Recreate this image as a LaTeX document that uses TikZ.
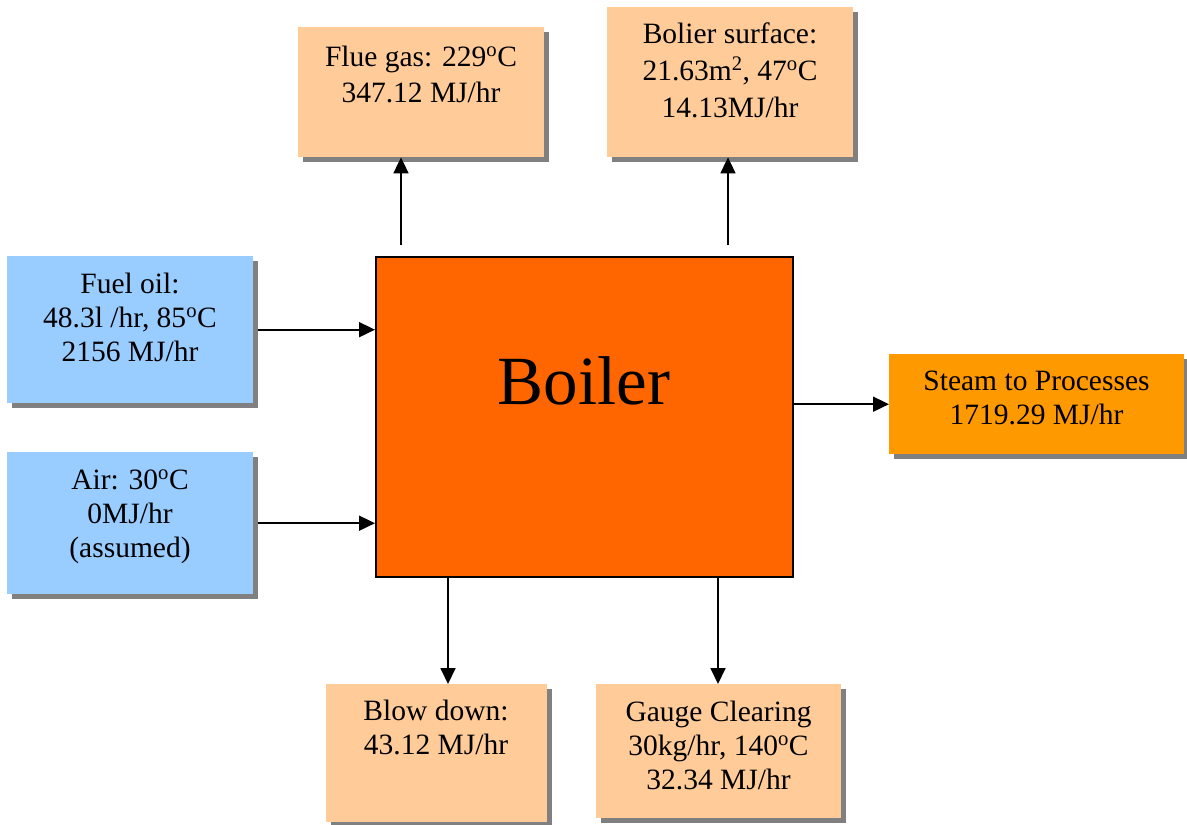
\documentclass[tikz,border=0pt]{standalone}
\usepackage{fontspec}
\setmainfont{Liberation Serif}
\usetikzlibrary{shadows,arrows.meta}
\definecolor{peach}{HTML}{FFCC99}
\definecolor{skyb}{HTML}{99CCFF}
\definecolor{steamc}{HTML}{FF9900}
\definecolor{boilc}{HTML}{FF6600}
\begin{document}
\begin{tikzpicture}[x=1pt,y=-1pt,
  box/.style={rectangle, inner sep=0, anchor=north west,
    drop shadow={shadow xshift=5pt, shadow yshift=-5pt, fill=black!50, opacity=1}},
  txt/.style={inner sep=0, anchor=base, font=\fontsize{29.5}{34}\selectfont},
  arr/.style={line width=1.8pt, -{Triangle[length=16pt,width=15pt]}}]
\useasboundingbox (0,0) rectangle (1187,825);

% boxes
\node[box, fill=peach, minimum width=246, minimum height=130] (flue) at (298,27) {};
\node[box, fill=peach, minimum width=246, minimum height=150] (bsurf) at (607,7) {};
\node[box, fill=skyb, minimum width=246, minimum height=147] (fuel) at (7,256) {};
\node[box, fill=skyb, minimum width=246, minimum height=142] (air) at (7,452) {};
\node[box, fill=steamc, minimum width=295, minimum height=100] (steam) at (889,354) {};
\node[box, fill=peach, minimum width=221, minimum height=138] (blow) at (326,684) {};
\node[box, fill=peach, minimum width=245, minimum height=134] (gauge) at (596,684) {};
\node[rectangle, draw=black, line width=2pt, fill=boilc, inner sep=0, anchor=north west,
  minimum width=417, minimum height=320] (boiler) at (375,256) {};

% texts
\node[txt] (fluet) at (421,66) {\begin{tabular}[t]{@{}c@{}}Flue gas: 229\textsuperscript{o}C\\[2pt]347.12 MJ/hr\end{tabular}};
\node[txt] (bsurft) at (730,43) {\begin{tabular}[t]{@{}c@{}}Bolier surface:\\[3pt]21.63m\textsuperscript{2}, 47\textsuperscript{o}C\\[3pt]14.13MJ/hr\end{tabular}};
\node[txt] (fuelt) at (130,293) {\begin{tabular}[t]{@{}c@{}}Fuel oil:\\48.3l /hr, 85\textsuperscript{o}C\\2156 MJ/hr\end{tabular}};
\node[txt] (airt) at (130,489) {\begin{tabular}[t]{@{}c@{}}Air: 30\textsuperscript{o}C\\0MJ/hr\\(assumed)\end{tabular}};
\node[txt] (steamt) at (1036.5,390) {\begin{tabular}[t]{@{}c@{}}Steam to Processes\\1719.29 MJ/hr\end{tabular}};
\node[txt] (blowt) at (436,720) {\begin{tabular}[t]{@{}c@{}}Blow down:\\43.12 MJ/hr\end{tabular}};
\node[txt] (gauget) at (718.5,721) {\begin{tabular}[t]{@{}c@{}}Gauge Clearing\\30kg/hr, 140\textsuperscript{o}C\\32.34 MJ/hr\end{tabular}};
\node[inner sep=0, anchor=base, font=\fontsize{69}{80}\selectfont] (boilert) at (584,404) {Boiler};

% connectors
\coordinate (f0) at (401,245);
\coordinate (s0) at (728,245);
\coordinate (b1) at (448,576);
\coordinate (g1) at (718,576);
\draw[arr] (f0) -- (f0 |- flue.south);
\draw[arr] (s0) -- (s0 |- bsurf.south);
\draw[arr] ([xshift=5pt]fuel.east) -- (boiler.west |- fuel.east);
\draw[arr] ([xshift=5pt]air.east) -- (boiler.west |- air.east);
\draw[arr] (boiler.east |- steam.west) -- (steam.west);
\draw[arr] (b1) -- (b1 |- blow.north);
\draw[arr] (g1) -- (g1 |- gauge.north);
\end{tikzpicture}
\end{document}
